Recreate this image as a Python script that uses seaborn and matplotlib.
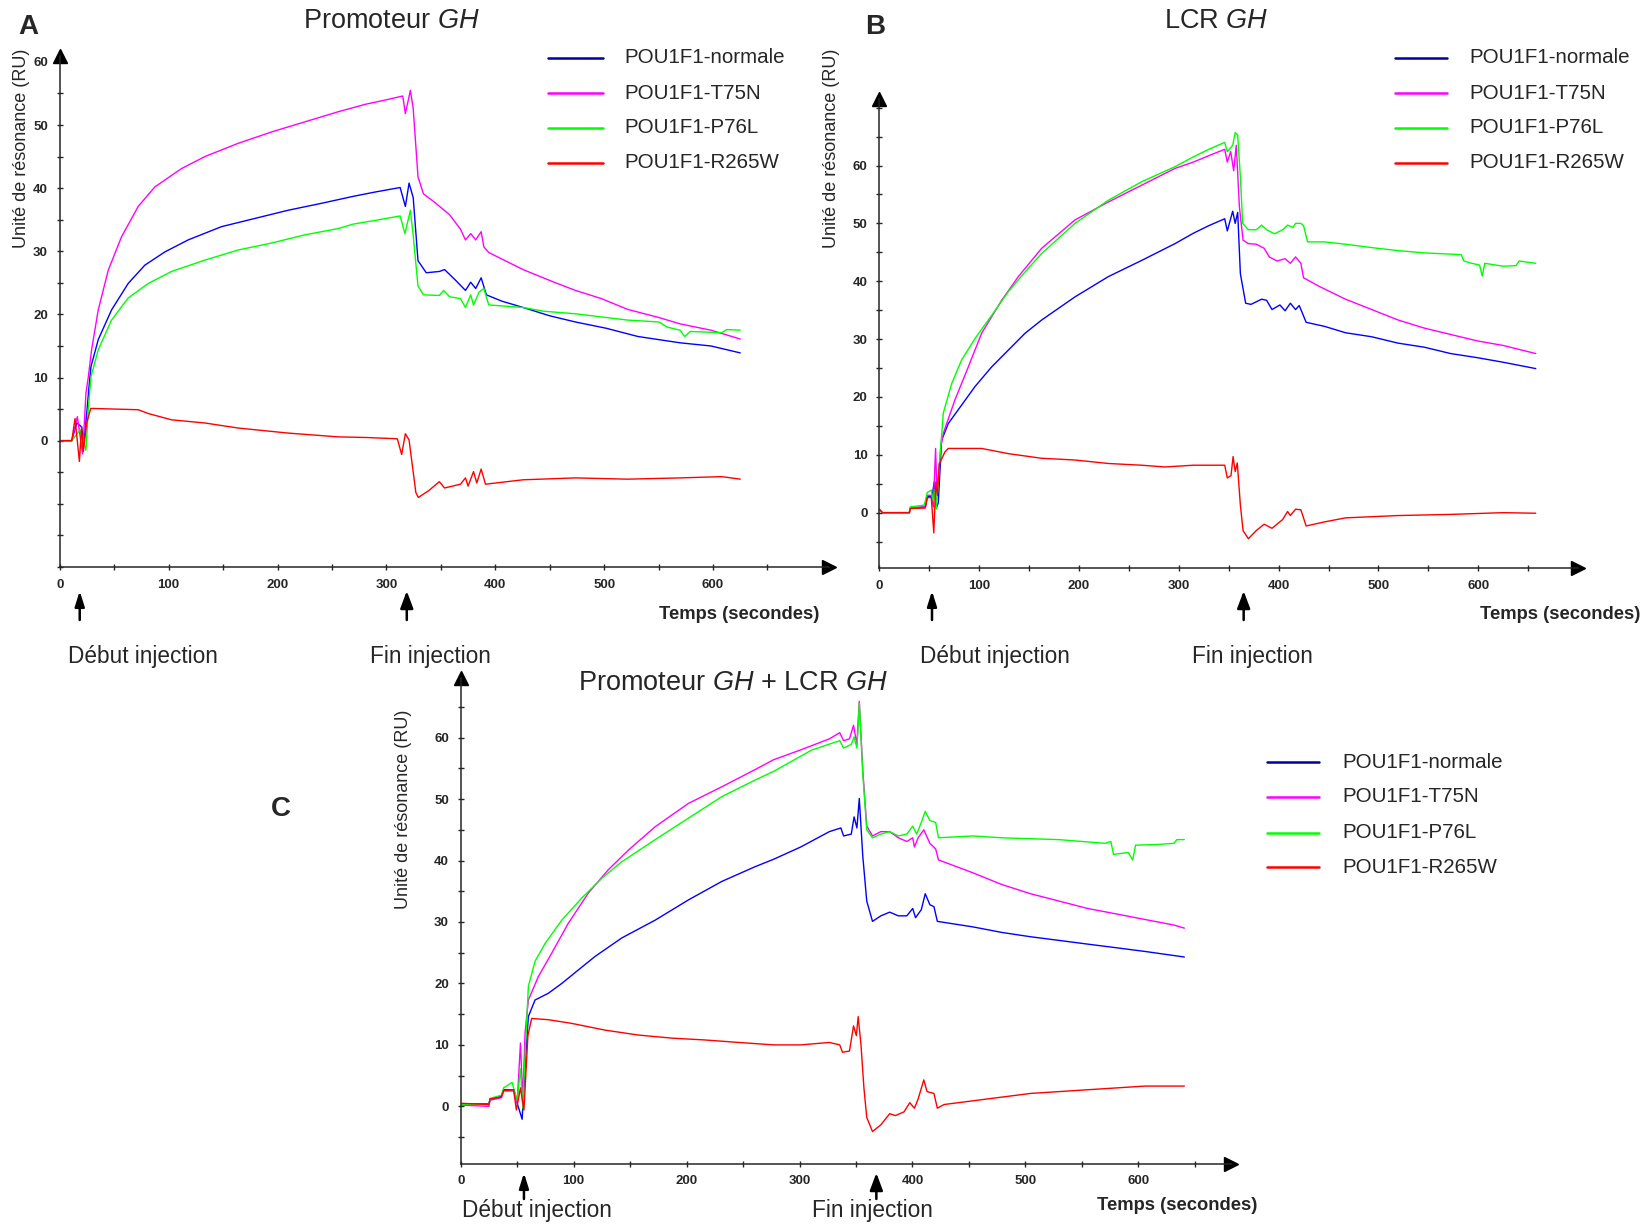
import numpy as np
import pandas as pd
import matplotlib
matplotlib.use("Agg")
import matplotlib.pyplot as plt
import seaborn as sns
from matplotlib.lines import Line2D

W, H = 1644, 1225

series_names = ["POU1F1-normale", "POU1F1-T75N", "POU1F1-P76L", "POU1F1-R265W"]
series_colors = ["#0000ff", "#ff00ff", "#00ff00", "#ff0000"]
legend_colors = ["#00009c", "#ff00ff", "#00ff00", "#ff0000"]

# ---- panel A : Promoteur GH ----
a_normale_t = [0, 11, 15.5, 20, 22, 24.7, 26.8, 28.6, 35.3, 47.5, 62.8, 78.1, 96.5, 117.9, 148.5, 179.1, 209.7, 240.4,
               269.4, 290, 312.6, 317.4, 320.8, 324.6, 329, 336.6, 348.6, 353.4, 363, 372.6, 377.4, 382, 387, 391.8,
               406, 425.5, 449.5, 473.6, 502, 531, 569.7, 598, 625]
a_normale_v = [0, 0, 2.8, 2.2, -0.5, 4.3, 8.5, 11.7, 16.0, 20.7, 24.9, 27.8, 29.9, 31.8, 33.9, 35.2, 36.5, 37.6, 38.7,
               39.4, 40.1, 37.1, 40.8, 38.5, 28.5, 26.6, 26.8, 27.1, 25.5, 23.8, 25.1, 24.1, 25.8, 23.1, 22.1, 21.1,
               19.8, 18.8, 17.8, 16.5, 15.5, 15.0, 13.9]
a_t75n_t = [0, 11, 16.1, 21, 24, 26.2, 29.2, 35.3, 44.5, 56.7, 72.0, 87.3, 111.8, 133.2, 163.8, 194.4, 225, 255.6, 281,
            300, 315, 317.4, 322, 324.6, 329, 334, 344, 351, 358, 368, 372.6, 377.5, 382, 387, 389.5, 394, 425.5,
            454, 473.6, 497.5, 521.5, 550.4, 569.7, 598, 625]
a_t75n_v = [0, 0, 3.8, -2.1, 7.5, 10.1, 14.4, 20.7, 27.0, 32.3, 37.1, 40.2, 43.1, 45.0, 47.1, 48.9, 50.5, 52.1, 53.3,
            54.0, 54.6, 51.8, 55.5, 52.6, 41.8, 39.1, 37.8, 36.8, 35.8, 33.5, 31.8, 32.8, 31.8, 33.1, 30.7, 29.8,
            27.1, 25.1, 23.8, 22.5, 20.8, 19.5, 18.5, 17.5, 16.1]
a_p76l_t = [0, 11, 18.6, 24, 26.2, 28.6, 35.3, 47.5, 62.8, 81.2, 102.6, 133.2, 163.8, 194.4, 225, 255.6, 269.4, 290,
            312.6, 317, 322, 324.6, 329, 334, 348.6, 352.5, 358, 368, 372.6, 377.4, 380, 385, 389.5, 394, 425.5,
            444.7, 473.6, 521.5, 550.4, 557.6, 569.7, 574, 579, 608, 612.6, 625]
a_p76l_v = [0, 0, 1.7, -1.5, 5.0, 10.1, 14.4, 19.1, 22.6, 24.9, 26.8, 28.6, 30.2, 31.3, 32.6, 33.6, 34.3, 34.9, 35.6,
            32.8, 36.5, 32.5, 24.5, 23.1, 23.0, 23.8, 22.8, 22.5, 21.1, 23.1, 21.5, 23.5, 24.1, 21.5, 21.1, 20.5,
            20.1, 19.1, 18.8, 18.0, 17.5, 16.5, 17.3, 17.1, 17.6, 17.5]
a_r265w_t = [0, 11, 14, 18, 20, 21.6, 24.7, 28.4, 30.6, 72, 81.2, 102.6, 133.2, 163.8, 209.7, 255.6, 281.4, 310, 314,
             317.4, 320.8, 327, 329.3, 339, 348.6, 353.4, 368, 372.6, 375, 380, 383, 387, 391, 425.5, 473.6, 521.5,
             569.7, 608, 625]
a_r265w_v = [0, 0, 3.5, -3.3, 2.2, -1.7, 2.8, 5.1, 5.1, 4.9, 4.3, 3.3, 2.8, 2.0, 1.2, 0.6, 0.5, 0.3, -2.2, 1.1, 0.1,
             -8.2, -9.0, -7.9, -6.5, -7.5, -6.9, -5.9, -7.2, -4.9, -6.7, -4.5, -6.9, -6.2, -5.9, -6.1, -5.9, -5.7,
             -6.1]

# ---- panel B : LCR GH ----
b_normale_t = [0, 3, 30, 31, 46, 48, 52.7, 55, 57, 59, 62.3, 69, 82.4, 95.8, 112.5, 129.2, 145.9, 162.6, 196, 229.4,
               262.8, 296.2, 314.6, 330, 346, 348.6, 354, 356.5, 359, 361.7, 367, 372.3, 383, 388, 393.4, 401.3,
               406.5, 411.8, 417, 420.7, 427.6, 446, 467, 493.4, 519.7, 546, 572.4, 598.7, 625, 657.7]
b_normale_v = [0.5, 0, 0, 0.8, 1.0, 2.8, 2.8, 5.3, 0.8, 1.7, 12.5, 15.4, 18.6, 21.8, 25.2, 28.1, 31.0, 33.3, 37.3,
               40.8, 43.6, 46.5, 48.3, 49.6, 50.8, 48.7, 52.1, 50.0, 51.9, 41.3, 36.2, 36.0, 36.9, 36.7, 35.1, 35.9,
               34.9, 36.2, 35.1, 35.8, 32.9, 32.2, 31.1, 30.4, 29.3, 28.6, 27.5, 26.8, 26.0, 24.9]
b_t75n_t = [0, 3, 30, 31, 46, 48, 52, 54, 56.3, 57.5, 59, 61.6, 64, 75.7, 89.1, 102.4, 122.5, 139.2, 162.6, 196, 229.4,
            262.8, 296.2, 314.6, 330, 346, 348.6, 352, 355, 357.6, 360.7, 364.4, 369.7, 377.6, 385.5, 390.7, 398.5,
            406.5, 411.8, 417, 422.3, 425, 440.8, 467, 493.4, 519.7, 546, 572.4, 598.7, 625, 657.7]
b_t75n_v = [0.5, 0, 0, 0.8, 1.0, 3.0, 3.0, 1.0, 11.1, 4.2, 6.0, 11.5, 13.7, 19.5, 25.2, 31.0, 36.7, 40.8, 45.7, 50.6,
            53.7, 56.6, 59.5, 60.6, 61.7, 62.8, 60.6, 62.4, 59.1, 63.5, 52.9, 47.1, 46.5, 46.4, 45.7, 44.2, 43.5,
            43.9, 43.1, 44.2, 43.1, 40.6, 39.1, 36.9, 35.1, 33.3, 31.9, 30.8, 29.7, 28.9, 27.5]
b_p76l_t = [0, 3, 30, 31, 45, 48, 52, 54, 56, 57, 60, 64, 72.4, 82.4, 95.8, 112.5, 129.2, 145.9, 162.6, 196, 229.4,
            262.8, 296.2, 314.6, 330, 346, 348.6, 354, 356.5, 359, 361.7, 364, 369.7, 377.6, 383, 388, 396, 404, 409,
            414.4, 417, 422.3, 425, 429, 446, 467, 498.7, 519.7, 546, 583, 585.6, 593.5, 601.4, 604, 606.6, 625, 638,
            641, 657.7]
b_p76l_v = [0.5, 0, 0, 1.0, 1.3, 3.5, 3.9, 2.0, 4.0, 0.6, 8.0, 17.2, 22.3, 26.4, 30.1, 34.1, 38.2, 41.6, 44.8, 50.0,
            54.0, 57.2, 59.8, 61.5, 62.8, 64.0, 62.4, 63.5, 65.7, 65.3, 58.0, 50.0, 48.9, 48.9, 49.7, 48.9, 48.2,
            48.9, 49.7, 49.3, 50.0, 50.0, 49.6, 46.8, 46.8, 46.4, 45.7, 45.3, 44.9, 44.6, 43.5, 43.1, 42.8, 40.9,
            43.1, 42.6, 42.7, 43.5, 43.1]
b_r265w_t = [0, 3, 30, 31, 46, 48, 52, 54.5, 56.5, 58, 60, 65.7, 69, 102.4, 129.2, 162.6, 196, 229.4, 262.8, 286.1,
             314.6, 346, 348.6, 352.3, 354.4, 356.5, 358.6, 361.7, 364.4, 369.7, 377.6, 385.5, 393.4, 404, 409,
             411.8, 417, 422.3, 427.6, 446, 467, 519.7, 572.4, 625, 657.7]
b_r265w_v = [0.6, 0, 0, 0.7, 0.8, 2.6, 2.6, -3.5, 5.3, 3.0, 8.4, 10.5, 11.1, 11.1, 10.2, 9.4, 9.1, 8.5, 8.2, 7.9,
             8.2, 8.2, 6.0, 6.4, 9.7, 7.1, 8.6, 1.3, -3.1, -4.5, -3.1, -2.0, -2.7, -1.2, 0.2, -0.5, 0.6, 0.5, -2.3,
             -1.6, -0.9, -0.5, -0.3, 0.0, -0.1]

# ---- panel C : Promoteur GH + LCR GH ----
c_normale_t = [0, 25, 26, 36, 38, 47, 50, 54.4, 57.5, 59.9, 65.8, 77.6, 89.5, 104.2, 119, 142.6, 172.2, 201.7, 231.2,
               260.7, 277, 301, 326.4, 336.6, 339, 345.8, 348.3, 350.8, 352.9, 356, 359.5, 364.6, 372, 379.8, 387.5,
               395, 400.2, 402.7, 407.8, 411.3, 415.4, 419, 422, 453.5, 479, 504.4, 529.8, 555, 580.7, 606, 640.7]
c_normale_v = [0.4, 0.4, 1.2, 1.6, 2.7, 2.7, 0.5, -2.1, 8.0, 14.6, 17.3, 18.4, 20.0, 22.2, 24.4, 27.4, 30.3, 33.6,
               36.6, 39.0, 40.2, 42.2, 44.7, 45.3, 44.0, 44.3, 47.1, 45.3, 50.1, 40.7, 33.4, 30.1, 31.0, 31.6, 31.0,
               31.0, 32.2, 30.7, 32.0, 34.6, 32.8, 32.5, 30.1, 29.2, 28.3, 27.6, 27.0, 26.4, 25.8, 25.2, 24.3]
c_t75n_t = [0, 25, 26, 36, 38, 47, 50, 52.9, 55, 57, 59.9, 68.7, 80.5, 95.3, 113, 130.7, 148.5, 172.2, 201.7, 231.2,
            260.7, 277, 301, 326.4, 335.6, 339, 344.2, 347.8, 350.8, 352.9, 356, 359.5, 364.6, 372, 379.8, 387.5,
            395, 400.2, 401.7, 405, 410, 415.4, 420.5, 423, 453.5, 479, 504.4, 529.8, 555, 580.7, 606, 631.5, 640.7]
c_t75n_v = [0.2, 0.0, 1.0, 1.4, 2.5, 2.5, 0.5, 10.3, 1.0, 12.0, 17.3, 21.1, 24.9, 29.8, 34.7, 38.5, 41.7, 45.5, 49.3,
            52.0, 54.8, 56.4, 58.0, 59.8, 60.8, 59.5, 59.8, 62.0, 58.9, 65.9, 54.7, 45.6, 44.0, 44.7, 44.7, 43.7,
            43.1, 43.7, 42.2, 43.7, 45.0, 42.8, 41.9, 40.1, 38.0, 36.1, 34.6, 33.4, 32.2, 31.3, 30.4, 29.5, 29.0]
c_p76l_t = [0, 25, 26, 36, 38, 45.5, 50, 52.9, 55, 56, 59.9, 65.8, 74.7, 89.5, 107.2, 124.9, 142.6, 172.2, 201.7,
            231.2, 260.7, 277, 311, 335.6, 339, 345.8, 348.3, 350.8, 352.9, 356, 359.5, 364.6, 372, 379.8, 387.5, 395,
            400.2, 403.7, 407.8, 411.3, 415.4, 420.5, 423, 453.5, 479, 529.8, 570.5, 575.6, 578, 591, 595, 597.5,
            616.3, 631.5, 634, 640.7]
c_p76l_v = [0.3, 0.3, 1.3, 1.8, 3.0, 3.9, 1.0, 6.1, -0.3, 4.3, 19.5, 23.6, 26.5, 30.3, 33.9, 37.1, 39.8, 43.4, 46.9,
            50.4, 53.1, 54.5, 58.0, 59.5, 58.3, 58.9, 60.1, 58.3, 65.6, 54.1, 45.0, 43.7, 44.3, 44.7, 44.0, 44.3,
            45.6, 44.3, 46.2, 48.0, 46.5, 46.2, 43.7, 44.0, 43.7, 43.4, 42.8, 43.1, 41.0, 41.3, 40.1, 42.5, 42.6,
            42.8, 43.4, 43.4]
c_r265w_t = [0, 25, 26, 36, 38, 46.8, 49.3, 52.9, 56, 59.5, 62.8, 77.6, 98.3, 127.9, 157.4, 186.9, 216.4, 245.9, 277,
             301, 326.4, 335.6, 338, 344.2, 347.8, 350.3, 351.9, 354.4, 357, 359.5, 364.6, 372, 379.8, 384.9, 392.5,
             397.6, 401.7, 405, 410, 412.9, 419, 422, 428, 453.5, 479, 504.4, 529.8, 555, 580.7, 606, 640.7]
c_r265w_v = [0.5, 0.3, 1.2, 1.5, 2.6, 2.7, -0.6, 3.0, -0.6, 11.5, 14.3, 14.1, 13.5, 12.4, 11.6, 11.1, 10.8, 10.4, 10.0,
             10.0, 10.4, 10.0, 8.8, 9.0, 13.1, 11.5, 14.6, 10.0, 3.0, -1.8, -4.1, -3.0, -1.2, -1.5, -0.9, 0.6, -0.3,
             1.2, 4.3, 2.4, 2.1, -0.3, 0.3, 0.9, 1.5, 2.1, 2.4, 2.7, 3.0, 3.3, 3.3]

# injection start / end times (s)
inj_a = [18.3, 318.7]
inj_b = [52.7, 365]
inj_c = [56, 368]


def make_df(ts, vs):
    frames = []
    for name, t, v in zip(series_names, ts, vs):
        frames.append(pd.DataFrame({"t": t, "v": v, "serie": name}))
    return pd.concat(frames, ignore_index=True)


df_a = make_df([a_normale_t, a_t75n_t, a_p76l_t, a_r265w_t], [a_normale_v, a_t75n_v, a_p76l_v, a_r265w_v])
df_b = make_df([b_normale_t, b_t75n_t, b_p76l_t, b_r265w_t], [b_normale_v, b_t75n_v, b_p76l_v, b_r265w_v])
df_c = make_df([c_normale_t, c_t75n_t, c_p76l_t, c_r265w_t], [c_normale_v, c_t75n_v, c_p76l_v, c_r265w_v])

sns.set_style("ticks")
plt.rcParams["font.family"] = ["Liberation Sans", "DejaVu Sans"]
plt.rcParams["mathtext.fontset"] = "custom"
plt.rcParams["mathtext.rm"] = "Liberation Sans"
plt.rcParams["mathtext.it"] = "Liberation Sans:italic"

fig = plt.figure(figsize=(W / 100, H / 100), dpi=100)


def fx(x):
    return x / W


def fy(y):
    return 1 - y / H


def add_axes(left, right, top, bottom):
    return fig.add_axes([fx(left), fy(bottom), (right - left) / W, (bottom - top) / H])


def style_axes(ax, xmax, ymin, ymax, ytop_tick):
    ax.set_xlim(0, xmax)
    ax.set_ylim(ymin, ymax)
    sns.despine(ax=ax)
    xt = np.arange(0, 651, 50)
    ax.set_xticks(xt)
    ax.set_xticklabels([str(int(x)) if x % 100 == 0 else "" for x in xt])
    yt = np.arange(-20, ytop_tick + 1, 5)
    yt = yt[yt >= ymin]
    ax.set_yticks(yt)
    ax.set_yticklabels([str(int(y)) if (y % 10 == 0 and 0 <= y <= 60) else "" for y in yt])
    ax.tick_params(direction="inout", length=5, width=1, labelsize=9.5, pad=6)
    for lab in ax.get_xticklabels() + ax.get_yticklabels():
        lab.set_fontweight("bold")
    for s in ["left", "bottom"]:
        ax.spines[s].set_linewidth(1.1)
    ax.plot(1, 0, marker=">", color="k", ms=10, transform=ax.transAxes, clip_on=False)
    ax.plot(0, 1, marker="^", color="k", ms=10, transform=ax.transAxes, clip_on=False)
    ax.set_xlabel("")
    ax.set_ylabel("")


def draw(ax, df):
    sns.lineplot(data=df, x="t", y="v", hue="serie", palette=series_colors, hue_order=series_names,
                 estimator=None, sort=False, legend=False, lw=1.0, ax=ax)


def legend(x0, x1, xtext, ys):
    for name, col, y in zip(series_names, legend_colors, ys):
        fig.add_artist(Line2D([fx(x0), fx(x1)], [fy(y), fy(y)], color=col, lw=1.8, transform=fig.transFigure))
        fig.text(fx(xtext), fy(y), name, fontsize=14.8, va="center", ha="left")


def injection(ax, times, y_tip, y_base, text_x, y_text):
    heads = ["-|>,head_width=0.22,head_length=0.7", "-|>,head_width=0.3,head_length=0.8"]
    for t, head in zip(times, heads):
        ax.annotate("", xy=(t, H - y_tip), xytext=(t, H - y_base), xycoords=("data", "figure pixels"),
                    textcoords=("data", "figure pixels"),
                    arrowprops=dict(arrowstyle=head, color="k", lw=1.8, mutation_scale=13, shrinkA=0, shrinkB=0))
    for x, label in zip(text_x, ["Début injection", "Fin injection"]):
        fig.text(fx(x), fy(y_text), label, fontsize=16.3, ha="center", va="center")


# Panel A
ax_a = add_axes(59.8, 829, 55.6, 566.9)
draw(ax_a, df_a)
style_axes(ax_a, 706.5, -20, 61, 60)
fig.text(fx(391), fy(21.5), r"Promoteur $\mathit{GH}$", fontsize=19.5, ha="center", va="center")
fig.text(fx(28), fy(27), "A", fontsize=20, fontweight="bold", ha="center", va="center")
fig.text(fx(21), fy(148), "Unité de résonance (RU)", rotation=90, fontsize=13, ha="center", va="center")
fig.text(fx(819), fy(614.5), "Temps (secondes)", fontsize=13.2, fontweight="bold", ha="right", va="center")
legend(548, 603, 624, [57.7, 93.3, 127.9, 162.5])
injection(ax_a, inj_a, 591, 620, [142.7, 430], 656.5)

# Panel B
ax_b = add_axes(879.4, 1578, 99, 568.2)
draw(ax_b, df_b)
style_axes(ax_b, 700, -9.6, 71.5, 70)
fig.text(fx(1216.7), fy(21), r"LCR $\mathit{GH}$", fontsize=19.5, ha="center", va="center")
fig.text(fx(875.5), fy(27), "B", fontsize=20, fontweight="bold", ha="center", va="center")
fig.text(fx(831.5), fy(148), "Unité de résonance (RU)", rotation=90, fontsize=13, ha="center", va="center")
fig.text(fx(1640), fy(614.5), "Temps (secondes)", fontsize=13.2, fontweight="bold", ha="right", va="center")
legend(1394.5, 1447, 1469, [57.7, 93.3, 127.9, 162.5])
injection(ax_b, inj_b, 591, 620, [995, 1252], 656.5)

# Panel C
ax_c = add_axes(460.7, 1231, 678, 1163.5)
draw(ax_c, df_c)
style_axes(ax_c, 682, -9.3, 69.7, 65)
fig.text(fx(732.8), fy(682.9), r"Promoteur $\mathit{GH}$ + LCR $\mathit{GH}$", fontsize=19.5, ha="center",
         va="center")
fig.text(fx(281), fy(809), "C", fontsize=20, fontweight="bold", ha="center", va="center")
fig.text(fx(403.7), fy(809), "Unité de résonance (RU)", rotation=90, fontsize=13, ha="center", va="center")
fig.text(fx(1257), fy(1205.8), "Temps (secondes)", fontsize=13.2, fontweight="bold", ha="right", va="center")
legend(1266.5, 1319, 1342, [762.3, 796.9, 832.5, 867.1])
injection(ax_c, inj_c, 1173, 1199, [537, 872.4], 1211)

fig.savefig("out.png", dpi=100)
